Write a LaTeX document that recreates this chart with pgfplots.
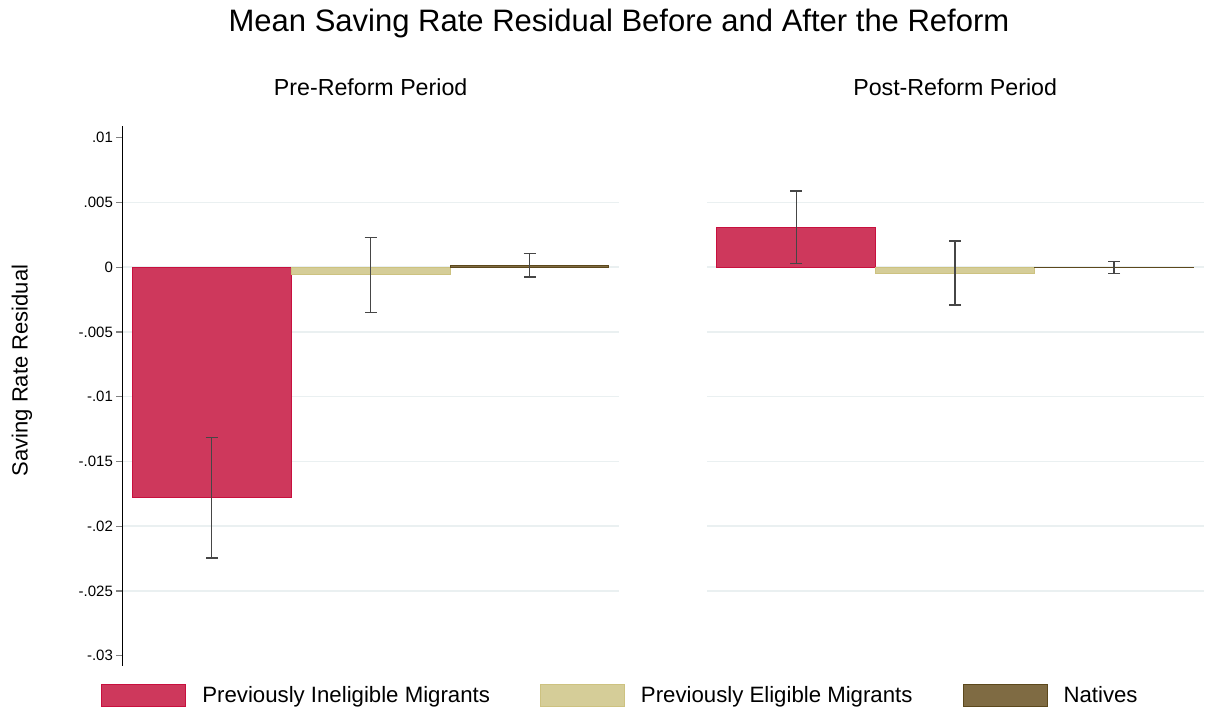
\documentclass[border=0pt]{standalone}
\usepackage{fontspec}
\setmainfont{Liberation Sans}
\usepackage{pgfplots}
\pgfplotsset{compat=1.18}

\definecolor{inelFill}{RGB}{206,56,92}
\definecolor{inelLine}{RGB}{200,16,62}
\definecolor{eligFill}{RGB}{213,205,152}
\definecolor{eligLine}{RGB}{205,194,128}
\definecolor{natFill}{RGB}{127,107,67}
\definecolor{natLine}{RGB}{92,72,28}
\definecolor{gridc}{RGB}{234,240,241}
\definecolor{errc}{RGB}{70,70,70}

\pgfplotsset{
  every axis title shift=0pt,
  panel/.style={
    scale only axis, width=248.3pt, height=269.8pt,
    xmin=0.437, xmax=3.563, ymin=-0.03077, ymax=0.0109,
    axis x line=none, xtick=\empty,
    scaled y ticks=false,
    ytick={-0.025,-0.02,-0.015,-0.01,-0.005,0,0.005},
    ymajorgrids, major grid style={gridc, line width=0.75pt},
    clip=false,
    title style={at={(0.5,1.0723)}, anchor=center, font=\fontsize{11.6}{14}\selectfont},
  },
  bars/.style={ybar, bar shift=0pt, bar width=1, line width=0.5pt,
    error bars/y dir=both, error bars/y explicit,
    error bars/error bar style={draw=errc, line width=0.75pt},
    error bars/error mark options={rotate=90, draw=errc, line width=0.75pt, mark size=3pt}},
  inel/.style={bars, fill=inelFill, draw=inelLine},
  elig/.style={bars, fill=eligFill, draw=eligLine},
  nat/.style={bars, fill=natFill, draw=natLine},
}

\begin{document}
\begin{tikzpicture}
% Pre-reform panel with the y axis and the legend
\begin{axis}[panel, at={(0,0)}, anchor=south west,
  title={Pre-Reform Period},
  axis y line*=left,
  y axis line style={black, line width=0.6pt},
  ytick style={gray, line width=0.6pt},
  tick align=outside, major tick length=3pt,
  yticklabels={-.025,-.02,-.015,-.01,-.005,0,.005},
  extra y ticks={-0.03,0.01},
  extra y tick labels={-.03,.01},
  extra y tick style={grid=none},
  yticklabel style={font=\fontsize{7.5}{9}\selectfont, inner sep=1.5pt},
  ylabel={Saving Rate Residual},
  ylabel style={at={(axis description cs:-0.2019,0.547)}, anchor=center, font=\fontsize{11}{13}\selectfont},
  legend columns=3,
  legend style={at={(axis description cs:-0.0429,-0.056)}, anchor=west,
    draw=none, fill=none, inner sep=0pt,
    font=\fontsize{11.1}{13}\selectfont,
    nodes={inner sep=0pt},
    /tikz/column sep=8pt,
    /tikz/column 2/.style={column sep=25pt},
    /tikz/column 4/.style={column sep=25pt}},
  legend image code/.code={\draw[#1] (0pt,-5.5pt) rectangle (42pt,5.5pt);},
]
\addplot[inel] coordinates {(1,-0.0178) +- (0,0.00465)};
\addlegendentry{Previously Ineligible Migrants}
\addplot[elig] coordinates {(2,-0.0006) +- (0,0.0029)};
\addlegendentry{Previously Eligible Migrants}
\addplot[nat] coordinates {(3,0.00016) +- (0,0.0009)};
\addlegendentry{Natives}
\node[font=\fontsize{15.5}{18}\selectfont] at (axis description cs:1.0,1.1908)
  {Mean Saving Rate Residual Before and After the Reform};
\coordinate (bbSW) at (axis description cs:-0.2462,-0.0821);
\coordinate (bbNE) at (axis description cs:2.2120,1.2335);
\end{axis}

% Post-reform panel
\begin{axis}[panel, at={(292.2pt,0)}, anchor=south west,
  title={Post-Reform Period},
  axis line style={draw=none},
  yticklabels={}, major tick length=0pt, tick style={draw=none},
]
\addplot[inel] coordinates {(1,0.0031) +- (0,0.0028)};
\addplot[elig] coordinates {(2,-0.00045) +- (0,0.00247)};
\addplot[nat] coordinates {(3,-0.00003) +- (0,0.00046)};
\end{axis}

\path (bbSW) rectangle (bbNE);
\end{tikzpicture}
\end{document}
